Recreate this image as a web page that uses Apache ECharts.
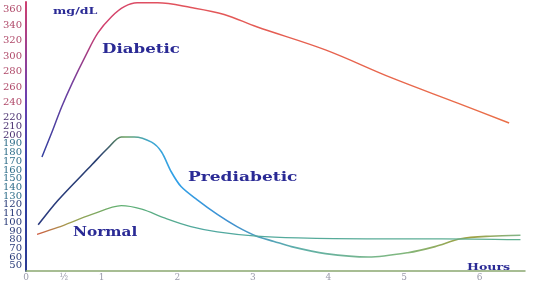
<!DOCTYPE html>
<html>
<head>
<meta charset="utf-8">
<script src="https://cdn.jsdelivr.net/npm/echarts@6/dist/echarts.min.js"></script>
<style>html,body{margin:0;padding:0;background:#fff;}#c{width:540px;height:284px;}</style>
</head>
<body>
<div id="c"></div>
<script>
// ---- data (hours, mg/dL) ----
var diabeticHours = [0.21, 0.34, 0.47, 0.61, 0.78, 0.95, 1.13, 1.3, 1.47, 1.74, 2.18, 2.62, 3.05, 3.96, 4.83, 5.71, 6.39];
var diabeticValues = [175, 203, 234, 265, 299, 330, 351, 364, 369, 369, 363, 354, 338, 308, 272, 239, 214];
var prediabeticHours = [0.16, 0.42, 0.87, 1.08, 1.26, 1.43, 1.66, 1.79, 1.92, 2.05, 2.26, 2.53, 2.79, 3.05, 3.28, 3.51, 3.96, 4.53, 5.05, 5.41, 5.75, 6.14, 6.54];
var prediabeticValues = [97, 125, 166, 185, 198, 198, 192, 181, 158, 141, 126, 109, 95, 84, 78, 72, 64, 60, 65, 72, 81, 84, 85];
var normalHours = [0.145, 0.42, 0.87, 1.26, 1.53, 1.83, 2.18, 2.53, 3.05, 3.6, 4.5, 5.5, 6.54];
var normalValues = [86, 94, 109, 119, 115, 105, 95, 89, 84, 82, 81, 81, 80];
var yTickLabels = [50,60,70,80,90,100,110,120,130,140,150,160,170,180,190,200,210,220,240,260,280,300,320,340,360];
var xTickValues = [0, 0.5, 1, 2, 3, 4, 5, 6];
var seriesNames = ['Diabetic', 'Prediabetic', 'Normal'];

// the printed scale is compressed above 220 mg/dL
var BREAK = 220, K = 0.886, Y_MIN = 44, Y_MAX = 353;
function pos(v){ return v <= BREAK ? v : BREAK + (v - BREAK) * K; }
function pairs(xs, ys){ return xs.map(function(x, i){ return [x, pos(ys[i])]; }); }
function labelFor(p){
  if (p < 47) return '';
  var best = yTickLabels[0], d = 1e9;
  yTickLabels.forEach(function(t){ var dd = Math.abs(pos(t) - p); if (dd < d){ d = dd; best = t; } });
  return String(best);
}
function labelColor(v){
  if (v >= 240) return '#b04a6a';
  if (v >= 200) return '#4a3070';
  if (v >= 130) return '#2f6e8a';
  return '#283a78';
}
var G = echarts.graphic.LinearGradient;
function hgrad(stops){ return new G(0, 0, 540, 0, stops.map(function(s){ return {offset: s[0]/540, color: s[1]}; }), true); }
function note(text, left, top, size, sx){
  return { type: 'text', left: left, top: top, scaleX: sx, originX: 0,
    style: { text: text, fontFamily: 'DejaVu Serif', fontWeight: 'bold', fontSize: size, fill: '#2a2a95' } };
}

var chart = echarts.init(document.getElementById('c'));
chart.setOption({
  animation: false,
  backgroundColor: '#ffffff',
  grid: { left: 26, right: 15, top: 2, bottom: 13 },
  xAxis: {
    type: 'value', min: 0, max: 6.6,
    splitLine: { show: false },
    axisTick: { show: false },
    axisLine: { lineStyle: { color: '#8aa870', width: 1.5 } },
    axisLabel: {
      customValues: xTickValues,
      margin: 2, hideOverlap: false, lineHeight: 9,
      fontFamily: 'DejaVu Serif', fontSize: 9,
      color: function(v){ return v === 0 ? '#55607a' : '#9a9aaa'; },
      formatter: function(v){ return v === 0.5 ? '½' : String(v); }
    }
  },
  yAxis: {
    type: 'value', min: Y_MIN, max: Y_MAX,
    splitLine: { show: false },
    axisTick: { show: false },
    axisLine: { show: true, lineStyle: { width: 2, color: new G(0, 0, 0, 284, [
      {offset: 0, color: '#d04070'}, {offset: 0.35, color: '#6a40b0'}, {offset: 0.6, color: '#3040a8'}, {offset: 1, color: '#2a3a90'}], true) } },
    axisLabel: {
      customValues: [Y_MIN].concat(yTickLabels.map(pos)),
      hideOverlap: false,
      margin: 4, lineHeight: 8,
      fontFamily: 'DejaVu Serif', fontSize: 10,
      formatter: function(p){ return labelFor(p); },
      color: function(p){ return labelColor(+labelFor(p)); }
    }
  },
  series: [
    { name: seriesNames[0], type: 'line', smooth: 0.35, symbol: 'none',
      data: pairs(diabeticHours, diabeticValues),
      lineStyle: { width: 1.5, color: hgrad([[40,'#3040a0'],[70,'#7040a0'],[100,'#d04070'],[150,'#e05060'],[300,'#e66050'],[520,'#ea7048']]) } },
    { name: seriesNames[1], type: 'line', smooth: 0.3, symbol: 'none',
      data: pairs(prediabeticHours, prediabeticValues),
      lineStyle: { width: 1.6, color: hgrad([[36,'#2a3a80'],[100,'#2a4070'],[125,'#6aa060'],[150,'#40a8d0'],[175,'#30a0e8'],[230,'#4090d0'],[300,'#60b0a8'],[400,'#80b880'],[470,'#a0a040'],[525,'#80b890']]) } },
    { name: seriesNames[2], type: 'line', smooth: 0.3, symbol: 'none',
      data: pairs(normalHours, normalValues),
      lineStyle: { width: 1.3, color: hgrad([[36,'#d05a40'],[70,'#a0a050'],[120,'#60b070'],[200,'#50a8a0'],[525,'#60b090']]) } }
  ],
  graphic: [
    note('mg/dL', 53, 6, 10, 1.26),
    note(seriesNames[0], 102, 43, 13, 1.28),
    note(seriesNames[1], 188, 171, 13, 1.31),
    note(seriesNames[2], 73, 226, 13, 1.18),
    note('Hours', 467, 262, 10, 1.26)
  ]
});
</script>
</body>
</html>
